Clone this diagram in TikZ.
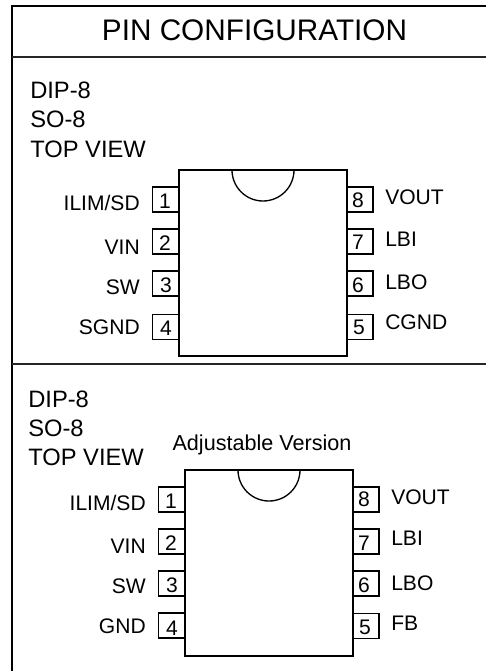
\documentclass[tikz,border=0pt]{standalone}
\usepackage{fontspec}
\setmainfont{Liberation Sans}
\tikzset{
  x=0.75pt,y=-0.75pt,
  frameline/.style={line width=1.5pt,black},
  divider/.style={line width=1.1pt,black!85},
  chipbody/.style={draw,line width=1pt,fill=white},
  pinbox/.style={draw,line width=1pt,inner sep=0pt,minimum width=19.5pt,minimum height=18.75pt,fill=white},
  pinnum/.style={anchor=base,inner sep=0pt,font=\fontsize{15.8}{18}\selectfont},
  leftlab/.style={anchor=base east,inner sep=0pt,font=\fontsize{15.8}{18}\selectfont},
  rightlab/.style={anchor=base west,inner sep=0pt,font=\fontsize{15.8}{18}\selectfont},
  pkglab/.style={anchor=base west,inner sep=0pt,font=\fontsize{17.8}{20}\selectfont},
}
\begin{document}
\begin{tikzpicture}
\useasboundingbox (0,0) rectangle (486,671);
% frame
\draw[frameline] (12,671) -- (12,6) -- (486,6);
\draw[divider] (12,57) -- (486,57);
\draw[divider] (12,364) -- (486,364);
\node[anchor=base,inner sep=0pt,font=\fontsize{22.3}{26}\selectfont] (title) at (254.5,40) {PIN CONFIGURATION};
% upper panel
\node[pkglab] (a1) at (30,98) {DIP-8};
\node[pkglab] (a2) at (30,127) {SO-8};
\node[pkglab] (a3) at (30,157) {TOP VIEW};
\foreach \n/\y in {1/199.5,2/241.5,3/283.5,4/327}
  \node[pinbox] (ua\n) at (165.5,\y) {};
\foreach \n/\y in {8/199.5,7/241.5,6/283.5,5/327}
  \node[pinbox] (ub\n) at (360,\y) {};
\draw[chipbody] (179,170) rectangle (347,356);
\draw[line width=1pt] (232,170) arc[start angle=180,end angle=0,radius=31];
\foreach \n/\x/\y in {1/165/208,2/165/250,3/166/292,4/166/335,8/358/207,7/358/249,6/358/292,5/359/334}
  \node[pinnum] (ud\n) at (\x,\y) {\n};
\node[leftlab] (ul1) at (140,210) {ILIM/SD};
\node[leftlab] (ul2) at (140,254) {VIN};
\node[leftlab] (ul3) at (140,294) {SW};
\node[leftlab] (ul4) at (140,334) {SGND};
\node[rightlab] (ur8) at (385,204) {VOUT};
\node[rightlab] (ur7) at (385,246) {LBI};
\node[rightlab] (ur6) at (385,289) {LBO};
\node[rightlab] (ur5) at (385,329) {CGND};
% lower panel
\node[pkglab] (b1) at (28,407) {DIP-8};
\node[pkglab] (b2) at (28,436) {SO-8};
\node[pkglab] (b3) at (28,465) {TOP VIEW};
\node[anchor=base,inner sep=0pt,font=\fontsize{16.2}{18}\selectfont] (adj) at (262,450) {Adjustable Version};
\foreach \n/\y in {1/499.5,2/541.5,3/583.5,4/625.5}
  \node[pinbox] (la\n) at (171.5,\y) {};
\foreach \n/\y in {8/499.5,7/541.5,6/583.5,5/626}
  \node[pinbox] (lb\n) at (366,\y) {};
\draw[chipbody] (185,470) rectangle (353,656);
\draw[line width=1pt] (238,470) arc[start angle=180,end angle=0,radius=31];
\foreach \n/\x/\y in {1/171/508,2/171/550,3/172/592,4/172/635,8/364/506,7/364/550,6/364/592,5/365/634}
  \node[pinnum] (ld\n) at (\x,\y) {\n};
\node[leftlab] (ll1) at (146,510) {ILIM/SD};
\node[leftlab] (ll2) at (146,553) {VIN};
\node[leftlab] (ll3) at (146,593) {SW};
\node[leftlab] (ll4) at (146,633) {GND};
\node[rightlab] (lr8) at (391,504) {VOUT};
\node[rightlab] (lr7) at (391,545) {LBI};
\node[rightlab] (lr6) at (391,590) {LBO};
\node[rightlab] (lr5) at (391,630) {FB};
\end{tikzpicture}
\end{document}
